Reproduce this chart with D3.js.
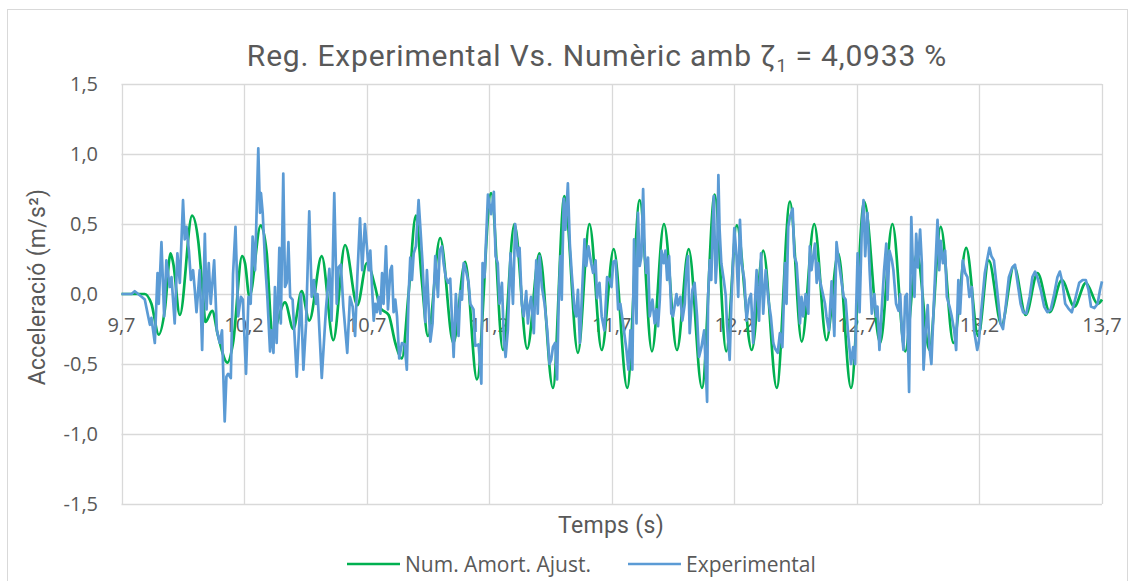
<!DOCTYPE html>
<html><head><meta charset="utf-8">
<script src="https://cdn.jsdelivr.net/npm/d3@7"></script>
<style>body{margin:0;background:#fff}</style>
</head><body>
<svg id="chart" width="1136" height="581"></svg>
<script>
const titleMain = "Reg. Experimental Vs. Numèric amb ";
const xTitle = "Temps (s)";
const yTitle = "Acceleració (m/s²)";
const seriesNames = ["Num. Amort. Ajust.", "Experimental"];
const xTicks = [9.7, 10.2, 10.7, 11.2, 11.7, 12.2, 12.7, 13.2, 13.7];
const yTicks = [-1.5, -1.0, -0.5, 0.0, 0.5, 1.0, 1.5];

// Numerical damped response (time s, acceleration m/s²)
const numeric = [[9.700,0],[9.795,0],[9.822,-0.07],[9.852,-0.29],[9.877,-0.11],[9.900,0.29],[9.911,0.22],[9.938,-0.15],[9.988,0.56],[10.013,0.38],
[10.033,-0.02],[10.042,-0.20],[10.070,-0.12],[10.094,-0.30],[10.132,-0.49],[10.155,-0.35],[10.192,0.27],[10.204,0.22],[10.222,-0.02],[10.268,0.49],
[10.292,0.30],[10.315,-0.28],[10.367,-0.06],[10.401,-0.25],[10.435,0.02],[10.466,-0.19],[10.517,0.27],[10.564,-0.33],[10.612,0.35],[10.662,-0.08],
[10.701,0.22],[10.735,0.05],[10.756,-0.10],[10.790,-0.15],[10.817,-0.35],[10.844,-0.46],[10.871,0.00],[10.901,0.56],[10.925,0.10],[10.950,-0.30],
[11.000,0.40],[11.054,-0.35],[11.102,0.23],[11.150,-0.61],[11.208,0.72],[11.256,-0.40],[11.303,0.50],[11.355,-0.39],[11.405,0.29],[11.460,-0.67],
[11.507,0.70],[11.562,-0.42],[11.609,0.50],[11.659,-0.40],[11.708,0.32],[11.763,-0.67],[11.814,0.67],[11.864,-0.41],[11.913,0.50],[11.966,-0.40],
[12.014,0.32],[12.068,-0.67],[12.120,0.71],[12.167,-0.41],[12.210,0.49],[12.271,-0.40],[12.318,0.31],[12.373,-0.67],[12.427,0.66],[12.475,-0.34],
[12.526,0.50],[12.576,-0.33],[12.624,0.29],[12.676,-0.67],[12.730,0.66],[12.795,-0.35],[12.845,0.50],[12.897,-0.41],[12.945,0.29],[12.996,-0.40],
[13.042,0.48],[13.094,-0.35],[13.146,0.33],[13.195,-0.30],[13.238,0.24],[13.290,-0.22],[13.341,0.20],[13.389,-0.15],[13.437,0.15],[13.487,-0.13],
[13.536,0.10],[13.587,-0.09],[13.634,0.08],[13.682,-0.07],[13.700,-0.04]];

// Experimental record (time s, acceleration m/s²)
const experimental = [[9.700,0],[9.741,0],[9.754,0.02],[9.768,0],[9.782,-0.02],[9.795,-0.04],[9.809,-0.16],[9.816,-0.22],[9.822,-0.17],[9.836,-0.35],
[9.847,0.15],[9.852,-0.07],[9.863,0.37],[9.874,-0.16],[9.883,0.24],[9.897,0.05],[9.904,0.12],[9.917,-0.21],[9.928,0.29],[9.938,0.08],
[9.951,0.67],[9.958,0.39],[9.965,0.48],[9.975,0.31],[9.983,0.10],[9.992,0.17],[9.999,0.03],[10.006,-0.13],[10.013,0.03],[10.019,0.17],
[10.029,-0.40],[10.040,0.43],[10.047,-0.11],[10.056,0.22],[10.064,-0.07],[10.078,0.24],[10.089,-0.26],[10.101,-0.35],[10.110,-0.26],[10.121,-0.91],
[10.128,-0.59],[10.135,-0.57],[10.146,-0.60],[10.155,0.14],[10.165,0.48],[10.176,-0.16],[10.187,-0.02],[10.195,-0.04],[10.208,-0.57],[10.218,-0.02],
[10.227,-0.07],[10.235,0.41],[10.245,0.17],[10.258,1.04],[10.265,0.58],[10.269,0.72],[10.276,0.58],[10.286,0.22],[10.295,-0.02],[10.306,-0.41],
[10.313,-0.26],[10.320,-0.42],[10.326,0.05],[10.333,-0.35],[10.344,0.33],[10.350,-0.21],[10.360,0.86],[10.367,0.05],[10.374,0.08],[10.381,0.37],
[10.388,-0.02],[10.398,-0.04],[10.415,-0.59],[10.426,-0.19],[10.432,0.00],[10.442,-0.54],[10.453,-0.21],[10.466,0.59],[10.476,-0.02],[10.485,0.10],
[10.494,-0.07],[10.500,0.00],[10.517,-0.60],[10.534,-0.11],[10.548,0.18],[10.557,-0.19],[10.568,0.72],[10.578,-0.07],[10.585,0.19],[10.595,0.21],
[10.605,-0.09],[10.621,-0.42],[10.632,-0.02],[10.643,-0.09],[10.653,-0.30],[10.662,0.12],[10.673,0.54],[10.682,0.17],[10.693,0.50],[10.701,0.34],
[10.708,0.17],[10.715,0.31],[10.722,0.05],[10.729,-0.19],[10.735,-0.07],[10.742,-0.13],[10.749,-0.02],[10.756,-0.14],[10.763,0.15],[10.769,-0.07],
[10.779,0.34],[10.787,-0.11],[10.797,0.17],[10.803,0.20],[10.810,-0.13],[10.817,-0.04],[10.824,-0.16],[10.833,-0.46],[10.844,-0.35],[10.855,-0.36],
[10.864,-0.54],[10.871,-0.02],[10.878,0.26],[10.885,0.10],[10.892,0.29],[10.901,0.34],[10.912,0.67],[10.919,0.48],[10.928,0.22],[10.939,-0.20],
[10.946,0.17],[10.960,-0.34],[10.969,-0.21],[10.980,0.27],[10.991,-0.02],[10.998,0.31],[11.007,0.34],[11.014,0.22],[11.023,0.12],[11.032,0.08],
[11.041,0.11],[11.055,-0.45],[11.064,0.00],[11.075,-0.30],[11.082,0.02],[11.089,-0.04],[11.096,0.22],[11.105,0.17],[11.116,0.08],[11.123,-0.07],
[11.136,-0.11],[11.143,-0.37],[11.157,-0.36],[11.168,-0.64],[11.173,0.22],[11.181,0.12],[11.195,0.71],[11.208,0.57],[11.219,0.73],[11.226,0.27],
[11.235,0.22],[11.242,-0.07],[11.252,0.08],[11.260,-0.33],[11.267,-0.45],[11.276,-0.26],[11.287,0.29],[11.297,-0.07],[11.306,0.50],[11.317,0.27],
[11.324,0.33],[11.333,-0.07],[11.341,-0.16],[11.351,0.02],[11.358,-0.21],[11.364,-0.09],[11.371,-0.02],[11.382,-0.28],[11.392,0.24],[11.398,-0.14],
[11.405,0.27],[11.415,0.05],[11.426,-0.07],[11.437,-0.26],[11.446,-0.50],[11.453,-0.47],[11.460,-0.38],[11.469,-0.35],[11.477,-0.61],[11.484,-0.02],
[11.491,0.27],[11.496,-0.04],[11.504,0.68],[11.511,0.46],[11.521,0.79],[11.529,0.36],[11.537,0.14],[11.548,-0.11],[11.555,-0.16],[11.562,0.03],
[11.570,-0.35],[11.578,-0.02],[11.589,0.39],[11.596,0.20],[11.605,0.34],[11.616,0.22],[11.624,0.15],[11.634,0.24],[11.640,-0.03],[11.650,0.08],
[11.659,-0.16],[11.670,-0.26],[11.681,0.12],[11.691,0.10],[11.699,0.05],[11.706,0.23],[11.716,0.24],[11.726,-0.11],[11.735,-0.07],[11.746,-0.21],
[11.760,-0.40],[11.768,-0.54],[11.776,-0.26],[11.784,-0.54],[11.791,0.39],[11.801,-0.21],[11.807,0.58],[11.814,0.20],[11.821,0.27],[11.828,0.75],
[11.835,0.27],[11.841,0.15],[11.848,0.26],[11.855,-0.16],[11.866,-0.04],[11.875,-0.21],[11.882,-0.11],[11.889,-0.23],[11.896,-0.04],[11.903,0.31],
[11.912,0.22],[11.919,0.31],[11.926,0.10],[11.934,0.27],[11.943,-0.14],[11.950,-0.16],[11.964,0.00],[11.970,-0.08],[11.980,-0.02],[11.988,-0.19],
[11.998,-0.07],[12.004,0.17],[12.011,0.27],[12.018,-0.28],[12.029,0.03],[12.038,0.08],[12.048,-0.16],[12.056,-0.45],[12.066,-0.38],[12.077,-0.26],
[12.089,-0.77],[12.093,-0.02],[12.100,0.24],[12.106,0.10],[12.116,0.70],[12.124,0.08],[12.130,0.27],[12.135,0.85],[12.140,0.46],[12.147,0.22],
[12.157,0.10],[12.165,-0.01],[12.170,-0.21],[12.181,-0.47],[12.188,-0.07],[12.200,0.47],[12.209,0.27],[12.216,-0.02],[12.223,0.53],[12.230,0.22],
[12.241,0.10],[12.250,-0.19],[12.260,-0.04],[12.268,0.00],[12.277,-0.35],[12.284,-0.07],[12.291,0.17],[12.301,-0.19],[12.309,0.29],[12.318,-0.14],
[12.328,0.17],[12.339,-0.04],[12.349,-0.16],[12.359,-0.35],[12.366,-0.39],[12.377,-0.42],[12.386,-0.28],[12.396,-0.38],[12.407,0.22],[12.413,-0.07],
[12.420,0.48],[12.427,0.55],[12.438,0.61],[12.445,0.27],[12.454,0.22],[12.461,0.03],[12.468,-0.21],[12.474,-0.02],[12.481,-0.16],[12.491,0.00],
[12.502,-0.14],[12.508,0.34],[12.515,0.17],[12.522,0.27],[12.529,0.36],[12.536,0.08],[12.542,0.22],[12.549,0.10],[12.559,0.02],[12.570,-0.07],
[12.576,-0.16],[12.586,-0.26],[12.597,0.09],[12.608,-0.30],[12.617,0.37],[12.627,0.22],[12.638,0.08],[12.646,-0.02],[12.654,-0.04],[12.665,-0.30],
[12.676,-0.50],[12.685,-0.38],[12.693,-0.50],[12.697,-0.11],[12.703,0.29],[12.711,-0.13],[12.720,0.46],[12.727,0.67],[12.734,0.27],[12.743,0.58],
[12.752,0.17],[12.761,-0.14],[12.771,0.00],[12.779,-0.16],[12.784,-0.09],[12.792,-0.40],[12.802,-0.09],[12.811,0.17],[12.820,0.36],[12.825,-0.04],
[12.833,0.31],[12.843,0.24],[12.849,0.17],[12.860,-0.07],[12.870,-0.12],[12.877,0.00],[12.883,-0.26],[12.890,-0.40],[12.897,-0.02],[12.904,0.00],
[12.913,-0.70],[12.922,0.55],[12.928,0.22],[12.935,-0.02],[12.942,0.43],[12.949,0.19],[12.958,0.46],[12.965,0.22],[12.972,-0.54],[12.981,-0.26],
[12.989,-0.08],[12.996,-0.38],[13.004,-0.50],[13.013,-0.11],[13.021,0.22],[13.029,0.53],[13.036,0.17],[13.042,0.38],[13.051,0.22],[13.060,0.31],
[13.067,-0.02],[13.078,-0.09],[13.087,-0.16],[13.097,-0.26],[13.105,-0.40],[13.114,0.10],[13.121,-0.14],[13.132,0.24],[13.142,0.15],[13.151,0.12],
[13.159,-0.02],[13.169,0.05],[13.178,-0.26],[13.191,-0.40],[13.197,-0.35],[13.208,-0.11],[13.222,0.15],[13.231,0.24],[13.241,0.33],[13.249,0.27],
[13.259,0.24],[13.272,0.03],[13.286,-0.21],[13.296,-0.25],[13.307,-0.09],[13.320,0.12],[13.334,0.19],[13.345,0.21],[13.354,0.10],[13.368,-0.07],
[13.378,-0.13],[13.391,-0.14],[13.405,-0.02],[13.416,0.12],[13.427,0.16],[13.436,0.12],[13.450,0.03],[13.464,-0.09],[13.477,-0.13],[13.491,-0.11],
[13.505,0.00],[13.518,0.12],[13.528,0.16],[13.539,0.08],[13.550,-0.07],[13.566,-0.11],[13.577,-0.13],[13.593,-0.02],[13.607,0.08],[13.621,0.10],
[13.634,0.10],[13.645,0.03],[13.655,-0.09],[13.669,-0.10],[13.682,-0.07],[13.692,0.03],[13.700,0.09]];

const svg = d3.select("#chart");
const W = 1136, H = 581;
const plot = {left: 121.5, right: 1102, top: 84, bottom: 504};
const x = d3.scaleLinear().domain([9.7, 13.7]).range([plot.left, plot.right]);
const y = d3.scaleLinear().domain([-1.5, 1.5]).range([plot.bottom, plot.top]);
const fmt = v => d3.format(".1f")(v).replace(".", ",").replace("−", "-");
const gridColor = "#d9d9d9";
const textColor = "#595959";
const tickFont = "'Open Sans', sans-serif";
const titleFont = "Roboto, sans-serif";

svg.append("rect").attr("x", 0).attr("y", 0).attr("width", W).attr("height", H).attr("fill", "#fff");
// chart frame
svg.append("rect").attr("x", 7.5).attr("y", 9.5).attr("width", 1120).attr("height", 600)
  .attr("fill", "none").attr("stroke", gridColor).attr("stroke-width", 1);

// gridlines
svg.append("g").selectAll("line").data(yTicks).join("line")
  .attr("x1", plot.left).attr("x2", plot.right)
  .attr("y1", d => Math.round(y(d)) + 0.5).attr("y2", d => Math.round(y(d)) + 0.5)
  .attr("stroke", gridColor).attr("stroke-width", 1.3);
svg.append("g").selectAll("line").data(xTicks).join("line")
  .attr("x1", d => Math.round(x(d)) + 0.5).attr("x2", d => Math.round(x(d)) + 0.5)
  .attr("y1", plot.top).attr("y2", plot.bottom)
  .attr("stroke", gridColor).attr("stroke-width", 1.3);

// y tick labels
svg.append("g").selectAll("text").data(yTicks).join("text")
  .attr("x", 98).attr("y", d => y(d)).attr("dy", "0.36em")
  .attr("text-anchor", "end").attr("fill", textColor)
  .style("font-family", tickFont).style("font-size", "20px")
  .text(d => fmt(d));
// x tick labels (at the zero line)
svg.append("g").selectAll("text").data(xTicks).join("text")
  .attr("x", d => x(d)).attr("y", y(0) + 38)
  .attr("text-anchor", "middle").attr("fill", textColor)
  .style("font-family", tickFont).style("font-size", "20px")
  .text(d => fmt(d));

// lines
svg.append("path").datum(numeric)
  .attr("d", d3.line().x(d => x(d[0])).y(d => y(d[1])).curve(d3.curveMonotoneX))
  .attr("fill", "none").attr("stroke", "#00b050").attr("stroke-width", 2.7).attr("stroke-linejoin", "round");
svg.append("path").datum(experimental)
  .attr("d", d3.line().x(d => x(d[0])).y(d => y(d[1])))
  .attr("fill", "none").attr("stroke", "#5b9bd5").attr("stroke-width", 2.7).attr("stroke-linejoin", "round");

// title
const t = svg.append("text").attr("x", 597).attr("y", 66).attr("text-anchor", "middle")
  .attr("fill", textColor).style("font-family", titleFont).style("font-size", "30px")
  .style("letter-spacing", "0.8px");
t.append("tspan").text(titleMain + "ζ");
t.append("tspan").attr("dy", 6).style("font-size", "18px").text("1");
t.append("tspan").attr("dy", -6).text(" = 4,0933 %");

// axis titles
svg.append("text").attr("x", 611).attr("y", 533).attr("text-anchor", "middle")
  .attr("fill", textColor).style("font-family", titleFont).style("font-size", "23px")
  .style("letter-spacing", "0.3px").text(xTitle);
svg.append("text").attr("transform", "translate(45,287) rotate(-90)").attr("text-anchor", "middle")
  .attr("fill", textColor).style("font-family", titleFont).style("font-size", "23px")
  .style("letter-spacing", "0.3px").text(yTitle);

// legend
const legend = [{name: seriesNames[0], color: "#00b050", x: 347}, {name: seriesNames[1], color: "#5b9bd5", x: 628}];
const lg = svg.append("g").selectAll("g").data(legend).join("g");
lg.append("line").attr("x1", d => d.x).attr("x2", d => d.x + 53).attr("y1", 564).attr("y2", 564)
  .attr("stroke", d => d.color).attr("stroke-width", 2.7);
lg.append("text").attr("x", d => d.x + 58).attr("y", 564).attr("dy", "0.36em").attr("fill", textColor)
  .style("font-family", tickFont).style("font-size", "21px").text(d => d.name);
</script>
</body></html>
